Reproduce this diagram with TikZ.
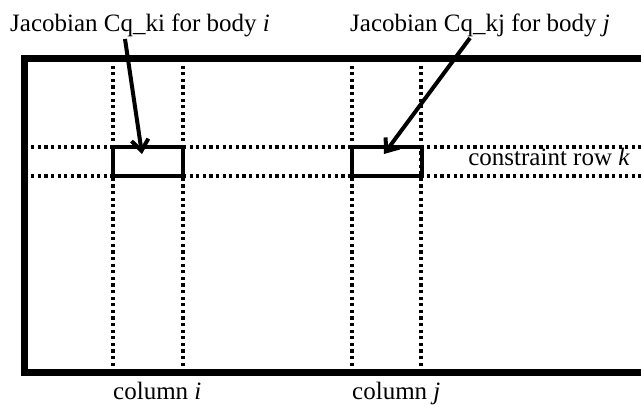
\documentclass[tikz,border=0pt]{standalone}
\usepackage{fontspec}
\setmainfont{Liberation Serif}
\usetikzlibrary{arrows.meta}
\begin{document}
\begin{tikzpicture}[x=1pt,y=-1pt,
  frame/.style={line width=7pt},
  grid/.style={line width=3.3pt, dash pattern=on 3.3pt off 3.3pt},
  jbox/.style={draw, line width=4pt, minimum width=70pt, minimum height=29pt, inner sep=0pt},
  lbl/.style={font=\fontsize{25}{28}\selectfont, inner sep=0pt},
  pointer/.style={line width=4pt, -{Straight Barb[length=11pt,width=17pt,line width=4pt]}}]
\useasboundingbox (0,0) rectangle (641,406);
\clip (0,0) rectangle (641,406);
% frame
\draw[frame] (24.5,59) rectangle (670,373);
% grid lines
\draw[grid] (113,59) -- (113,373);
\draw[grid] (183,59) -- (183,373);
\draw[grid] (352,59) -- (352,373);
\draw[grid] (421,59) -- (421,373);
\draw[grid] (24.5,147) -- (641,147);
\draw[grid] (24.5,176) -- (641,176);
% jacobian boxes
\node[jbox] (bi) at (148,161.5) {};
\node[jbox] (bj) at (386.5,161.5) {};
% labels
\node[lbl, anchor=base west] (li) at (10,32) {Jacobian Cq\_ki for body \textit{i}};
\node[lbl, anchor=base west] (lj) at (350,32) {Jacobian Cq\_kj for body \textit{j}};
\node[lbl, anchor=base east] (lk) at (630,166) {constraint row \textit{k}};
\node[lbl, anchor=base west] (ci) at (113,400) {column \textit{i}};
\node[lbl, anchor=base west] (cj) at (352,400) {column \textit{j}};
% pointers
\coordinate (si) at (125,39);
\coordinate (sj) at (470,38);
\coordinate (ti) at (142,154);
\coordinate (tj) at (384,154);
\draw[pointer] (si) -- (ti);
\draw[pointer] (sj) -- (tj);
\end{tikzpicture}
\end{document}
